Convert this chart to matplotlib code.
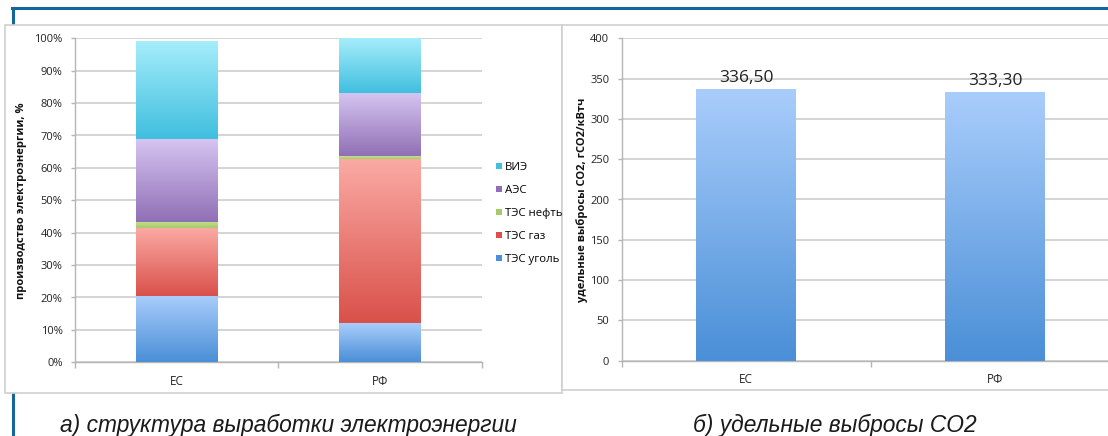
import numpy as np
import matplotlib
matplotlib.use('Agg')
import matplotlib.pyplot as plt
from matplotlib.colors import LinearSegmentedColormap
from matplotlib.patches import Rectangle, Patch
from matplotlib.lines import Line2D

# ── data ────────────────────────────────────────────────────────────────
regions = ['ЕС', 'РФ']
sources = ['ТЭС уголь', 'ТЭС газ', 'ТЭС нефть', 'АЭС', 'ВИЭ']
share_es = [20.5, 21.0, 1.9, 25.4, 30.5]   # %
share_rf = [12.0, 50.8, 0.9, 19.4, 16.9]   # %
pct_ticks = [0, 10, 20, 30, 40, 50, 60, 70, 80, 90, 100]

co2_values = [336.50, 333.30]               # гCO2/кВтч
co2_ticks = [0, 50, 100, 150, 200, 250, 300, 350, 400]

caption_a = 'а) структура выработки электроэнергии'
caption_b = 'б) удельные выбросы CO2'

# bottom -> top gradient colours per source
grad = {
    'ТЭС уголь': ('#4a8fd7', '#a9cdfb'),
    'ТЭС газ':   ('#d9514a', '#fbaaa4'),
    'ТЭС нефть': ('#a6ca68', '#c6e092'),
    'АЭС':       ('#9070b5', '#d5c4f1'),
    'ВИЭ':       ('#40bfdf', '#a6edfb'),
}
co2_grad = ('#4a8fd7', '#a9cdfb')

W, H = 1108, 436
plt.rcParams['font.family'] = ['Open Sans', 'DejaVu Sans']

fig = plt.figure(figsize=(W / 100, H / 100), dpi=100)


def fx(px):
    return px / W


def fy(py):
    return 1 - py / H


def gradient_bars(ax, bars, bottom_col, top_col):
    cmap = LinearSegmentedColormap.from_list('g', [bottom_col, top_col])
    g = np.linspace(0, 1, 128).reshape(-1, 1)
    for b in bars:
        x, y = b.get_x(), b.get_y()
        w, h = b.get_width(), b.get_height()
        im = ax.imshow(g, extent=[x, x + w, y, y + h], origin='lower',
                       aspect='auto', cmap=cmap, zorder=3)
        im.set_clip_path(b)
        b.set_facecolor('none')


# ── frame: blue lines and gray panels ───────────────────────────────────
blue = '#17669b'
fig.add_artist(Line2D([fx(12), fx(W)], [fy(8), fy(8)], color=blue, lw=2.2,
                      transform=fig.transFigure, zorder=-3))
fig.add_artist(Line2D([fx(13), fx(13)], [fy(8), fy(H)], color=blue, lw=2.2,
                      transform=fig.transFigure, zorder=-3))
for x0, x1, y1 in [(5, 562, 392.5), (562, W + 5, 390)]:
    fig.add_artist(Rectangle((fx(x0), fy(y1)), fx(x1 - x0), (y1 - 25.5) / H,
                             transform=fig.transFigure, facecolor='white',
                             edgecolor='#cfcfcf', lw=1.2, zorder=-2))

grid_col = '#c9c9c9'
axis_col = '#b5b5b5'


def style_axes(ax):
    ax.patch.set_visible(False)
    for s in ['top', 'right']:
        ax.spines[s].set_visible(False)
    for s in ['left', 'bottom']:
        ax.spines[s].set_color(axis_col)
        ax.spines[s].set_linewidth(1.0)
    ax.yaxis.grid(True, color=grid_col, lw=1.1)
    ax.set_axisbelow(True)
    ax.tick_params(axis='y', length=3, width=1, color=axis_col, pad=6,
                   labelsize=8, labelcolor='#222222')
    ax.tick_params(axis='x', which='major', length=0, pad=9,
                   labelsize=8.5, labelcolor='#222222')
    ax.tick_params(axis='x', which='minor', length=4, width=1,
                   color=axis_col)
    ax.set_xticks([-0.5, 0.5, 1.5], minor=True)
    ax.set_xticks(range(len(regions)))
    ax.set_xticklabels(regions)
    ax.set_xlim(-0.5, 1.5)


# ── (а) stacked shares ──────────────────────────────────────────────────
ax1 = fig.add_axes([fx(75), fy(362.3), fx(406.7), 324 / H])
style_axes(ax1)
bottoms = np.zeros(len(regions))
handles = []
for i, src in enumerate(sources):
    vals = np.array([share_es[i], share_rf[i]])
    bars = ax1.bar(range(len(regions)), vals, width=0.4, bottom=bottoms,
                   edgecolor='none', zorder=3)
    gradient_bars(ax1, bars, *grad[src])
    bottoms += vals
    handles.append(Patch(facecolor=grad[src][0], edgecolor='none', label=src))
ax1.set_xlim(-0.5, 1.5)
ax1.set_ylim(0, 100)
ax1.set_yticks(pct_ticks)
ax1.set_yticklabels([f'{t}%' for t in pct_ticks])
ax1.set_ylabel('производство электроэнергии, %', fontsize=8,
               fontweight='bold', color='#111111')
ax1.yaxis.set_label_coords(-0.118, 0.5)

fig.legend(handles=handles[::-1], loc='upper left',
           bbox_to_anchor=(fx(496), fy(162)), frameon=False, fontsize=8.2,
           handlelength=0.5, handleheight=0.5, handletextpad=0.25,
           labelspacing=1.05, borderpad=0, borderaxespad=0)

# ── (б) CO2 intensity ───────────────────────────────────────────────────
ax2 = fig.add_axes([fx(621.7), fy(360.7), fx(498), 322.4 / H])
style_axes(ax2)
bars = ax2.bar(range(len(regions)), co2_values, width=0.4,
               edgecolor='none', zorder=3)
gradient_bars(ax2, bars, *co2_grad)
for b, v in zip(bars, co2_values):
    ax2.text(b.get_x() + b.get_width() / 2, v + 4,
             f'{v:.2f}'.replace('.', ','), ha='center', va='bottom',
             fontsize=12.5, color='#222222')
ax2.set_xlim(-0.5, 1.5)
ax2.set_ylim(0, 400)
ax2.set_yticks(co2_ticks)
ax2.set_ylabel('удельные выбросы CO2, гCO2/кВтч', fontsize=8,
               fontweight='bold', color='#111111')
ax2.yaxis.set_label_coords(-0.068, 0.5)

# ── captions ────────────────────────────────────────────────────────────
for txt, xc in [(caption_a, 288), (caption_b, 835)]:
    fig.text(fx(xc), fy(425.5), txt, ha='center', va='center',
             fontsize=16.4, style='italic', color='#1a1a1a',
             family=['Liberation Sans', 'DejaVu Sans'])

fig.savefig('out.png', dpi=100)
